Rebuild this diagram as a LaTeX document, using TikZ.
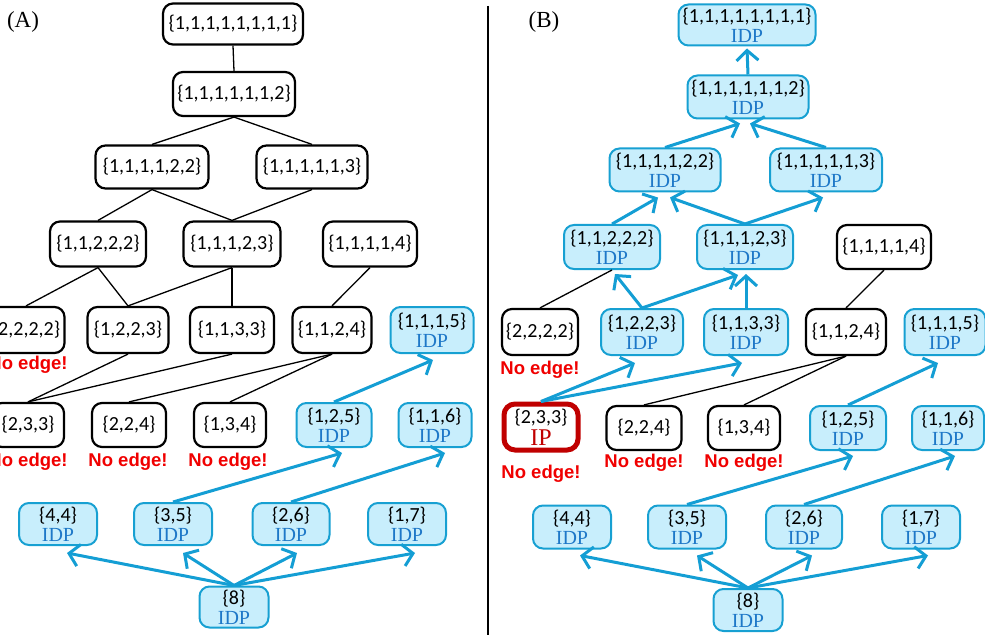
\documentclass[tikz,border=0pt]{standalone}
\usepackage{fontspec}
\setmainfont{Liberation Serif}
\newfontfamily\calfont{Carlito}
\newfontfamily\arfont{Liberation Sans}
\usetikzlibrary{arrows.meta}
\definecolor{idpfill}{RGB}{200,238,252}
\definecolor{idpborder}{RGB}{23,160,210}
\definecolor{idparrow}{RGB}{20,158,212}
\definecolor{idptext}{RGB}{30,120,200}
\definecolor{ipred}{RGB}{192,0,0}
\definecolor{noedgered}{RGB}{240,0,0}
\newcommand\setb[1]{\{#1\}}
\newcommand\IDPt[1]{\setb{#1}\\{\fontsize{20}{20}\selectfont\rmfamily\color{idptext}IDP}}
\newcommand\IPt[1]{\setb{#1}\\[2pt]{\fontsize{24}{20}\selectfont\rmfamily\color{ipred}IP}}
\tikzset{
  box/.style={rounded corners=10pt, minimum height=44pt, inner sep=0pt, align=center,
    font=\calfont\fontsize{20}{20}\selectfont},
  blk/.style={box, draw=black, line width=2.2pt, fill=white},
  idp/.style={box, draw=idpborder, line width=2pt, fill=idpfill},
  ipbox/.style={box, draw=ipred, line width=5pt, fill=white, rounded corners=11pt},
  w/.style={minimum width=#1},
  h/.style={minimum height=#1},
  ln/.style={line width=1.3pt, draw=black},
  arr/.style={line width=3pt, draw=idparrow, -{Straight Barb[length=10pt,width=22pt]}},
  noedge/.style={font=\arfont\bfseries\fontsize{18.5}{18}\selectfont, text=noedgered, inner sep=0pt},
  lab/.style={font=\rmfamily\fontsize{23}{23}\selectfont, inner sep=0pt}
}
\begin{document}
\begin{tikzpicture}[x=1pt,y=-1pt]
\useasboundingbox (0,0) rectangle (985,639);
% labels and divider
\node[lab] (labA) at (23,22) {(A)};
\node[lab] (labB) at (544,22) {(B)};
\coordinate (dt) at (488,6);
\coordinate (db) at (488,635);
\draw[line width=1.4pt] (dt) -- (db);

% ================= Panel A =================
\node[blk,w=140,h=41] (a1) at (233,24) {\setb{1,1,1,1,1,1,1,1}};
\node[blk,w=122] (a2) at (234,94) {\setb{1,1,1,1,1,1,2}};
\node[blk,w=113,h=43] (a3) at (152,167) {\setb{1,1,1,1,2,2}};
\node[blk,w=111,h=43] (a4) at (312,167) {\setb{1,1,1,1,1,3}};
\node[blk,w=96,h=45] (a5) at (98,244) {\setb{1,1,2,2,2}};
\node[blk,w=97,h=45] (a6) at (232,244) {\setb{1,1,1,2,3}};
\node[blk,w=94,h=45] (a7) at (370,244) {\setb{1,1,1,1,4}};
\node[blk,w=77,h=46] (a2222) at (26,330) {\setb{2,2,2,2}};
\node[blk,w=81,h=46] (a1223) at (128,330) {\setb{1,2,2,3}};
\node[blk,w=84,h=46] (a1133) at (232,330) {\setb{1,1,3,3}};
\node[blk,w=79,h=46] (a1124) at (332,330) {\setb{1,1,2,4}};
\node[idp,w=83,h=46] (a1115) at (432,330) {\IDPt{1,1,1,5}};
\node[blk,w=72,h=44] (a233) at (28,425) {\setb{2,3,3}};
\node[blk,w=74,h=44] (a224) at (129,425) {\setb{2,2,4}};
\node[blk,w=72,h=44] (a134) at (230,425) {\setb{1,3,4}};
\node[idp,w=75,h=44] (a125) at (334,425) {\IDPt{1,2,5}};
\node[idp,w=73,h=44] (a116) at (435,425) {\IDPt{1,1,6}};
\node[idp,w=78,h=42] (a44) at (58,524) {\IDPt{4,4}};
\node[idp,w=78,h=42] (a35) at (173,524) {\IDPt{3,5}};
\node[idp,w=77,h=42] (a26) at (291,524) {\IDPt{2,6}};
\node[idp,w=78,h=42] (a17) at (407,524) {\IDPt{1,7}};
\node[idp,w=69,h=41] (a8) at (234,607) {\IDPt{8}};

\node[noedge] (na1) at (28,365) {No edge!};
\node[noedge] (na2) at (28,462) {No edge!};
\node[noedge] (na3) at (128,462) {No edge!};
\node[noedge] (na4) at (228,462) {No edge!};

\draw[ln] (a1.south) -- (a2.north);
\draw[ln] (a2.south) -- (a3.north);
\draw[ln] (a2.south) -- (a4.north);
\draw[ln] (a3.south) -- (a5.north);
\draw[ln] (a3.south) -- (a6.north);
\draw[ln] (a4.south) -- (a6.north);
\draw[ln] (a5.south) -- (a2222.north);
\draw[ln] (a5.south) -- (a1223.north);
\draw[ln] (a6.south) -- (a1223.north);
\draw[ln] (a6.south) -- (a1133.north);
\draw[ln] (a7.south) -- (a1124.north);
\draw[ln] (a1223.south) -- (a233.north);
\draw[ln] (a1133.south) -- (a233.north);
\draw[ln] (a1124.south) -- (a224.north);
\draw[ln] (a1124.south) -- (a134.north);

\draw[arr] (a8.north) -- ([xshift=9pt,yshift=-7pt]a44.south);
\draw[arr] (a8.north) -- ([xshift=10pt,yshift=-7pt]a35.south);
\draw[arr] (a8.north) -- ([xshift=6pt,yshift=-7pt]a26.south);
\draw[arr] (a8.north) -- ([xshift=8pt,yshift=-7pt]a17.south);
\draw[arr] (a35.north) -- ([xshift=8pt,yshift=-5pt]a125.south);
\draw[arr] (a26.north) -- ([xshift=10pt,yshift=-5pt]a116.south);
\draw[arr] (a125.north) -- ([xshift=1pt,yshift=-6pt]a1115.south);

% ================= Panel B =================
\node[idp,w=137,h=41] (b1) at (747,25) {\IDPt{1,1,1,1,1,1,1,1}};
\node[idp,w=121,h=43] (b2) at (748,97) {\IDPt{1,1,1,1,1,1,2}};
\node[idp,w=111,h=43] (b3) at (665,170) {\IDPt{1,1,1,1,2,2}};
\node[idp,w=112,h=43] (b4) at (826,170) {\IDPt{1,1,1,1,1,3}};
\node[idp,w=96,h=44] (b5) at (612,247) {\IDPt{1,1,2,2,2}};
\node[idp,w=96,h=44] (b6) at (745,247) {\IDPt{1,1,1,2,3}};
\node[blk,w=94,h=44] (b7) at (884,247) {\setb{1,1,1,1,4}};
\node[blk,w=76,h=46] (b2222) at (540,332) {\setb{2,2,2,2}};
\node[idp,w=82,h=46] (b1223) at (642,332) {\IDPt{1,2,2,3}};
\node[idp,w=84,h=46] (b1133) at (746,332) {\IDPt{1,1,3,3}};
\node[blk,w=80,h=46] (b1124) at (846,332) {\setb{1,1,2,4}};
\node[idp,w=81,h=46] (b1115) at (945,332) {\IDPt{1,1,1,5}};
\node[ipbox,w=74,h=46] (b233) at (541,427) {\IPt{2,3,3}};
\node[blk,w=75,h=44] (b224) at (644,428) {\setb{2,2,4}};
\node[blk,w=72,h=44] (b134) at (744,428) {\setb{1,3,4}};
\node[idp,w=76,h=44] (b125) at (848,428) {\IDPt{1,2,5}};
\node[idp,w=72,h=44] (b116) at (948,428) {\IDPt{1,1,6}};
\node[idp,w=78,h=43] (b44) at (572,527) {\IDPt{4,4}};
\node[idp,w=78,h=43] (b35) at (687,527) {\IDPt{3,5}};
\node[idp,w=76,h=43] (b26) at (804,527) {\IDPt{2,6}};
\node[idp,w=78,h=43] (b17) at (921,527) {\IDPt{1,7}};
\node[idp,w=69,h=42] (b8) at (748,610) {\IDPt{8}};

\node[noedge] (nb1) at (540,370) {No edge!};
\node[noedge] (nb2) at (541,474) {No edge!};
\node[noedge] (nb3) at (644,463) {No edge!};
\node[noedge] (nb4) at (744,463) {No edge!};

\draw[ln] (b5.south) -- (b2222.north);
\draw[ln] (b7.south) -- (b1124.north);
\draw[ln] (b1124.south) -- (b224.north);
\draw[ln] (b1124.south) -- (b134.north);

\draw[arr] (b2.north) -- ([yshift=-2pt]b1.south);
\draw[arr] (b3.north) -- ([xshift=-8pt,yshift=-4pt]b2.south);
\draw[arr] (b4.north) -- ([xshift=2pt,yshift=-4pt]b2.south);
\draw[arr] (b5.north) -- ([xshift=-7pt,yshift=-5pt]b3.south);
\draw[arr] (b6.north) -- ([xshift=5pt,yshift=-5pt]b3.south);
\draw[arr] (b6.north) -- ([xshift=-3pt,yshift=-5pt]b4.south);
\draw[arr] (b1223.north) -- ([xshift=3pt,yshift=-4pt]b5.south);
\draw[arr] (b1223.north) -- ([xshift=-7pt,yshift=-5pt]b6.south);
\draw[arr] (b1133.north) -- ([xshift=1pt,yshift=-4pt]b6.south);
\draw[arr] (b233.north) -- ([xshift=-7pt,yshift=-7pt]b1223.south);
\draw[arr] (b233.north) -- ([xshift=-4pt,yshift=-7pt]b1133.south);
\draw[arr] (b125.north) -- ([xshift=-7pt,yshift=-7pt]b1115.south);
\draw[arr] (b35.north) -- ([xshift=5pt,yshift=-5pt]b125.south);
\draw[arr] (b26.north) -- ([xshift=7pt,yshift=-5pt]b116.south);
\draw[arr] (b8.north) -- ([xshift=8pt,yshift=-6pt]b44.south);
\draw[arr] (b8.north) -- ([xshift=10pt,yshift=-6pt]b35.south);
\draw[arr] (b8.north) -- ([xshift=8pt,yshift=-6pt]b26.south);
\draw[arr] (b8.north) -- ([xshift=7pt,yshift=-6pt]b17.south);
\end{tikzpicture}
\end{document}
